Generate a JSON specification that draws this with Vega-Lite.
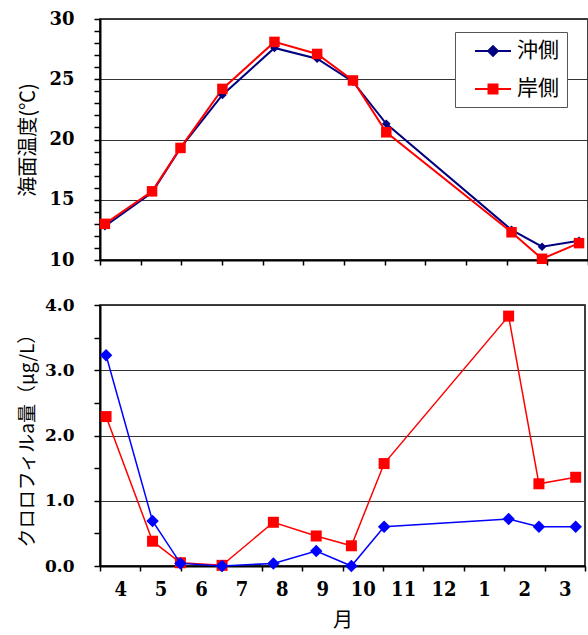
{
  "$schema": "https://vega.github.io/schema/vega-lite/v6.json",
  "padding": {"left": 17, "top": 9, "right": 3, "bottom": 3},
  "spacing": 25,
  "background": "white",
  "config": {
    "view": {"stroke": "black", "strokeWidth": 1.5},
    "axis": {
      "domainColor": "black", "domainWidth": 2, "tickColor": "black", "tickWidth": 1.5,
      "labelColor": "black", "titleColor": "black", "gridColor": "#333333", "gridWidth": 1, "labelOverlap": false, "labelFlush": false
    },
    "axisY": {"tickSize": 6, "labelPadding": 20},
    "axisX": {"grid": false, "tickSize": 5}
  },
  "datasets": {
    "temp": [
      {"m": 0.12, "s": "沖側", "v": 12.8}, {"m": 1.28, "s": "沖側", "v": 15.6}, {"m": 1.98, "s": "沖側", "v": 19.3},
      {"m": 3.01, "s": "沖側", "v": 23.7}, {"m": 4.29, "s": "沖側", "v": 27.6}, {"m": 5.34, "s": "沖側", "v": 26.7},
      {"m": 6.22, "s": "沖側", "v": 24.8}, {"m": 7.04, "s": "沖側", "v": 21.3}, {"m": 10.12, "s": "沖側", "v": 12.5},
      {"m": 10.87, "s": "沖側", "v": 11.1}, {"m": 11.78, "s": "沖側", "v": 11.6},
      {"m": 0.12, "s": "岸側", "v": 13.0}, {"m": 1.28, "s": "岸側", "v": 15.7}, {"m": 1.98, "s": "岸側", "v": 19.3},
      {"m": 3.01, "s": "岸側", "v": 24.2}, {"m": 4.29, "s": "岸側", "v": 28.1}, {"m": 5.34, "s": "岸側", "v": 27.1},
      {"m": 6.22, "s": "岸側", "v": 24.9}, {"m": 7.04, "s": "岸側", "v": 20.6}, {"m": 10.12, "s": "岸側", "v": 12.3},
      {"m": 10.87, "s": "岸側", "v": 10.1}, {"m": 11.78, "s": "岸側", "v": 11.4}
    ],
    "chl": [
      {"m": 0.15, "s": "沖側", "v": 3.23}, {"m": 1.30, "s": "沖側", "v": 0.69}, {"m": 1.99, "s": "沖側", "v": 0.04},
      {"m": 3.02, "s": "沖側", "v": 0.0}, {"m": 4.29, "s": "沖側", "v": 0.04}, {"m": 5.35, "s": "沖側", "v": 0.23},
      {"m": 6.22, "s": "沖側", "v": 0.0}, {"m": 7.03, "s": "沖側", "v": 0.60}, {"m": 10.11, "s": "沖側", "v": 0.72},
      {"m": 10.86, "s": "沖側", "v": 0.60}, {"m": 11.77, "s": "沖側", "v": 0.60},
      {"m": 0.15, "s": "岸側", "v": 2.29}, {"m": 1.30, "s": "岸側", "v": 0.38}, {"m": 1.99, "s": "岸側", "v": 0.05},
      {"m": 3.02, "s": "岸側", "v": 0.01}, {"m": 4.29, "s": "岸側", "v": 0.67}, {"m": 5.35, "s": "岸側", "v": 0.46},
      {"m": 6.22, "s": "岸側", "v": 0.31}, {"m": 7.03, "s": "岸側", "v": 1.57}, {"m": 10.11, "s": "岸側", "v": 3.83},
      {"m": 10.86, "s": "岸側", "v": 1.26}, {"m": 11.77, "s": "岸側", "v": 1.36}
    ]
  },
  "vconcat": [
    {
      "width": 488, "height": 241,
      "data": {"name": "temp"},
      "encoding": {
        "x": {"field": "m", "type": "quantitative", "scale": {"domain": [0, 12], "nice": false, "zero": false},
              "axis": {"values": [0,1,2,3,4,5,6,7,8,9,10,11,12], "labels": false, "title": null}},
        "y": {"field": "v", "type": "quantitative", "scale": {"domain": [10, 30], "nice": false, "zero": false},
              "axis": {"values": [10,11,12,13,14,15,16,17,18,19,20,21,22,23,24,25,26,27,28,29,30],
                       "labelExpr": "datum.value % 5 === 0 ? datum.label : ''",
                       "labelFont": "DejaVu Serif", "labelFontWeight": "bold", "labelFontSize": 18,
                       "grid": true,
                       "gridOpacity": {"condition": {"test": "datum.value % 5 === 0", "value": 1}, "value": 0},
                       "title": "海面温度(℃)", "titleFont": "Noto Sans CJK JP", "titleFontSize": 20,
                       "titleFontWeight": "normal", "titlePadding": 10}}
      },
      "layer": [
        {"transform": [{"filter": "datum.s === '沖側'"}], "mark": {"type": "line", "color": "#000080", "strokeWidth": 2}},
        {"transform": [{"filter": "datum.s === '岸側'"}], "mark": {"type": "line", "color": "#ff0000", "strokeWidth": 2}},
        {"transform": [{"filter": "datum.s === '沖側'"}], "mark": {"type": "point", "shape": "diamond", "filled": true, "opacity": 1, "size": 75, "color": "#000080"}},
        {"transform": [{"filter": "datum.s === '岸側'"}], "mark": {"type": "point", "shape": "square", "filled": true, "opacity": 1, "size": 110, "color": "#ff0000"}},
        {
          "mark": {"type": "point", "filled": true, "opacity": 0, "size": 10},
          "encoding": {
            "color": {"field": "s", "type": "nominal", "scale": {"domain": ["沖側", "岸側"], "range": ["#000080", "#ff0000"]},
              "legend": {"title": null, "orient": "none", "legendX": 355, "legendY": 13, "padding": 8, "rowPadding": 17,
                "strokeColor": "#555555", "fillColor": "white", "symbolSize": 400, "symbolOpacity": 1, "symbolStrokeWidth": 2,
                "labelFont": "Noto Sans CJK JP", "labelFontSize": 21, "labelColor": "black", "labelOffset": 32,
                "labelExpr": "datum.label + '\u2002'"}},
            "stroke": {"field": "s", "type": "nominal", "scale": {"domain": ["沖側", "岸側"], "range": ["#000080", "#ff0000"]},
              "legend": {"title": null, "orient": "none", "legendX": 355, "legendY": 13, "padding": 8, "rowPadding": 17,
                "strokeColor": "#555555", "fillColor": "white", "symbolSize": 400, "symbolOpacity": 1, "symbolStrokeWidth": 2,
                "labelFont": "Noto Sans CJK JP", "labelFontSize": 21, "labelColor": "black", "labelOffset": 32,
                "labelExpr": "datum.label + '\u2002'"}},
            "shape": {"field": "s", "type": "nominal", "scale": {"domain": ["沖側", "岸側"], "range": ["M0.1,0H3.7M1.9,-0.49L2.39,0L1.9,0.49L1.41,0Z", "M0.1,0H3.7M1.45,-0.45H2.35V0.45H1.45Z"]},
              "legend": {"title": null, "orient": "none", "legendX": 355, "legendY": 13, "padding": 8, "rowPadding": 17,
                "strokeColor": "#555555", "fillColor": "white", "symbolSize": 400, "symbolOpacity": 1, "symbolStrokeWidth": 2,
                "labelFont": "Noto Sans CJK JP", "labelFontSize": 21, "labelColor": "black", "labelOffset": 32,
                "labelExpr": "datum.label + '\u2002'"}}
          }
        }
      ]
    },
    {
      "width": 485, "height": 261,
      "data": {"name": "chl"},
      "encoding": {
        "x": {"field": "m", "type": "quantitative", "scale": {"domain": [0, 12], "nice": false, "zero": false},
              "axis": {"values": [0,0.5,1,1.5,2,2.5,3,3.5,4,4.5,5,5.5,6,6.5,7,7.5,8,8.5,9,9.5,10,10.5,11,11.5,12],
                       "tickOpacity": {"condition": {"test": "datum.value % 1 === 0", "value": 1}, "value": 0},
                       "labelExpr": "datum.value % 1 === 0 ? '' : '' + ((floor(datum.value) + 3) % 12 + 1)",
                       "labelFont": "DejaVu Serif Condensed", "labelFontWeight": "bold", "labelFontSize": 20,
                       "labelPadding": 8,
                       "title": "月", "titleFont": "Noto Sans CJK JP", "titleFontSize": 20, "titleFontWeight": "normal", "titlePadding": 11}},
        "y": {"field": "v", "type": "quantitative", "scale": {"domain": [0, 4], "nice": false, "zero": false},
              "axis": {"values": [0,0.5,1,1.5,2,2.5,3,3.5,4], "format": ".1f",
                       "labelExpr": "datum.value % 1 === 0 ? datum.label : ''",
                       "labelFont": "DejaVu Serif", "labelFontWeight": "bold", "labelFontSize": 17,
                       "grid": true,
                       "gridOpacity": {"condition": {"test": "datum.value % 1 === 0", "value": 1}, "value": 0},
                       "title": "クロロフィルa量（μg/L）", "titleFont": "Noto Sans CJK JP", "titleFontSize": 19,
                       "titleFontWeight": "normal", "titlePadding": 7}}
      },
      "layer": [
        {"transform": [{"filter": "datum.s === '岸側'"}], "mark": {"type": "line", "color": "#ff0000", "strokeWidth": 1.5}},
        {"transform": [{"filter": "datum.s === '岸側'"}], "mark": {"type": "point", "shape": "square", "filled": true, "opacity": 1, "size": 121, "color": "#ff0000"}},
        {"transform": [{"filter": "datum.s === '沖側'"}], "mark": {"type": "line", "color": "#0000ff", "strokeWidth": 1.5}},
        {"transform": [{"filter": "datum.s === '沖側'"}], "mark": {"type": "point", "shape": "diamond", "filled": true, "opacity": 1, "size": 156, "color": "#0000ff"}}
      ]
    }
  ]
}
